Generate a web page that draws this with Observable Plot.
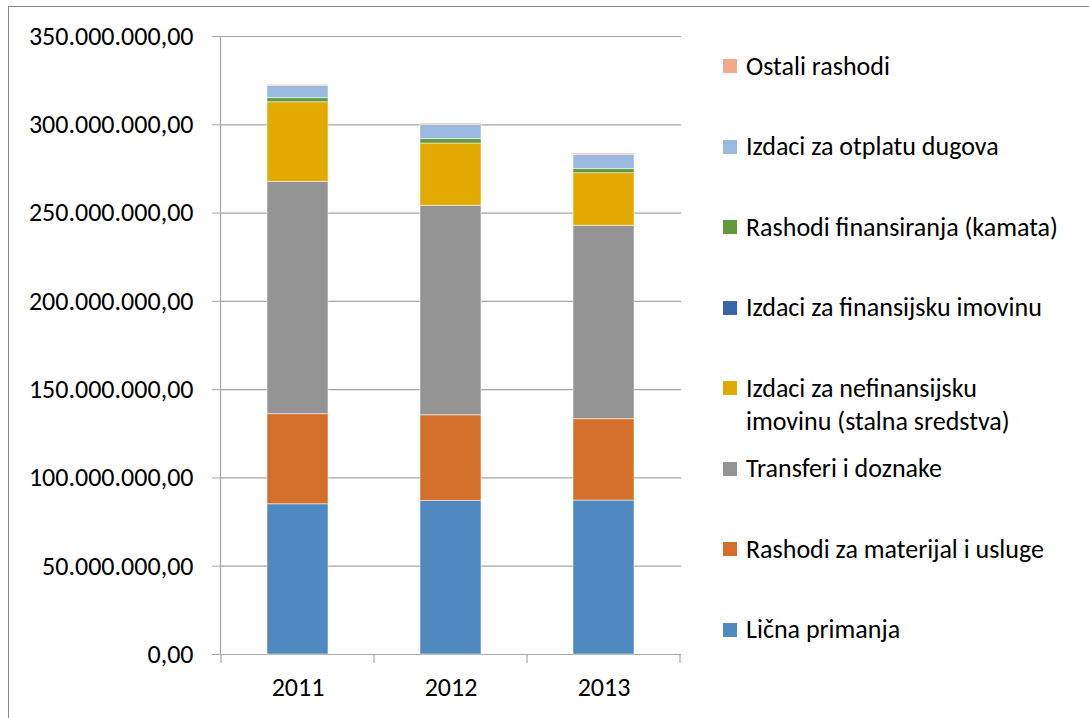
<!DOCTYPE html>
<html>
<head>
<meta charset="utf-8">
<script src="https://cdn.jsdelivr.net/npm/d3@7"></script>
<script src="https://cdn.jsdelivr.net/npm/@observablehq/plot@0.6"></script>
<style>
  html, body { margin: 0; padding: 0; background: #fff; }
  #wrap { position: relative; width: 1089px; height: 718px; overflow: hidden; font-family: Carlito, Lato, sans-serif; }
  #frame { position: absolute; left: 8px; top: 6px; right: -10px; bottom: -10px; border-left: 1px solid #8a8a8a; border-top: 1px solid #8a8a8a; pointer-events: none; }
  #legend { position: absolute; left: 723px; top: 0; }
  .item { position: absolute; left: 0; white-space: nowrap; font-size: 26px; line-height: 33px; color: #000; }
  .sw { position: absolute; left: 0; top: 9.5px; width: 14px; height: 14px; }
  .lbl { position: absolute; left: 23px; top: 0; }
</style>
</head>
<body>
<div id="wrap"><div id="frame"></div><div id="legend"></div></div>
<script>
// ---- data ----
const years = ["2011", "2012", "2013"];
const series = [
  "Lična primanja",
  "Rashodi za materijal i usluge",
  "Transferi i doznake",
  "Izdaci za nefinansijsku imovinu (stalna sredstva)",
  "Izdaci za finansijsku imovinu",
  "Rashodi finansiranja (kamata)",
  "Izdaci za otplatu dugova",
  "Ostali rashodi"
];
const colors = ["#4f89bf", "#d36f2a", "#949494", "#e2aa00", "#3a64a8", "#5f993b", "#9ab9df", "#f1a98a"];
const licnaPrimanja = [85100000, 87000000, 87200000];
const materijalUsluge = [51000000, 48500000, 46100000];
const transferiDoznake = [131600000, 118600000, 109500000];
const nefinansijskaImovina = [45100000, 35300000, 29800000];
const finansijskaImovina = [0, 0, 0];
const kamata = [2300000, 2500000, 2300000];
const otplataDugova = [7000000, 8100000, 8100000];
const ostaliRashodi = [500000, 700000, 700000];
const yTicks = [0, 50000000, 100000000, 150000000, 200000000, 250000000, 300000000, 350000000];

const seriesValues = [licnaPrimanja, materijalUsluge, transferiDoznake, nefinansijskaImovina,
  finansijskaImovina, kamata, otplataDugova, ostaliRashodi];
const table = [];
series.forEach((s, si) => years.forEach((y, yi) => table.push({year: y, series: s, value: seriesValues[si][yi]})));

const locale = d3.formatLocale({decimal: ",", thousands: ".", grouping: [3], currency: ["", ""]});
const fmt = locale.format(",.2f");
const FONT = "Carlito, Lato, sans-serif";
const GRID = "#a6a6a6";

const chart = Plot.plot({
  width: 1089,
  height: 718,
  marginLeft: 220,
  marginRight: 408,
  marginTop: 36,
  marginBottom: 64,
  style: {fontFamily: FONT, fontSize: "26px", color: "#000", background: "transparent"},
  x: {domain: years, paddingInner: 0.6, paddingOuter: 0.3, label: null},
  y: {domain: [0, 350000000], label: null},
  color: {domain: series, range: colors},
  marks: [
    Plot.gridY(yTicks, {stroke: GRID, strokeOpacity: 1, strokeWidth: 1.2}),
    Plot.barY(table, {x: "year", y: "value", fill: "series", order: series, stroke: "#ffffff", strokeOpacity: 0.5, strokeWidth: 1}),
    Plot.frame({anchor: "left", stroke: GRID, strokeWidth: 1.2}),
    Plot.axisY({ticks: yTicks, tickFormat: fmt, tickSize: 8, tickPadding: 19, stroke: GRID, fill: "#000", fontSize: 26}),
    Plot.axisX({tickSize: 0, tickPadding: 23, fill: "#000", fontSize: 26})
  ]
});

// category boundary ticks from the band scale
const xs = chart.scale("x");
const gap = (xs.step - xs.bandwidth) / 2;
const bounds = xs.domain.map(d => xs.apply(d) - gap);
bounds.push(xs.apply(xs.domain[xs.domain.length - 1]) + xs.bandwidth + gap);
const ys = chart.scale("y");
const y0 = ys.apply(0);
d3.select(chart).append("g").selectAll("line").data(bounds).join("line")
  .attr("x1", d => d).attr("x2", d => d)
  .attr("y1", y0).attr("y2", y0 + 9)
  .attr("stroke", GRID).attr("stroke-width", 1.2);

document.getElementById("wrap").prepend(chart);
chart.style.position = "absolute";
chart.style.left = "0";
chart.style.top = "0";

// legend (top to bottom = reversed stacking order)
const legend = d3.select("#legend");
const legendOrder = series.map((s, i) => ({s, c: colors[i]})).reverse();
const legendLabels = {
  "Izdaci za nefinansijsku imovinu (stalna sredstva)": "Izdaci za nefinansijsku<br>imovinu (stalna sredstva)"
};
legendOrder.forEach((d, i) => {
  const it = legend.append("div").attr("class", "item").style("top", (66 + i * 80.5 - 16.5) + "px");
  it.append("div").attr("class", "sw").style("background", d.c);
  it.append("div").attr("class", "lbl").html(legendLabels[d.s] || d.s);
});
</script>
</body>
</html>
